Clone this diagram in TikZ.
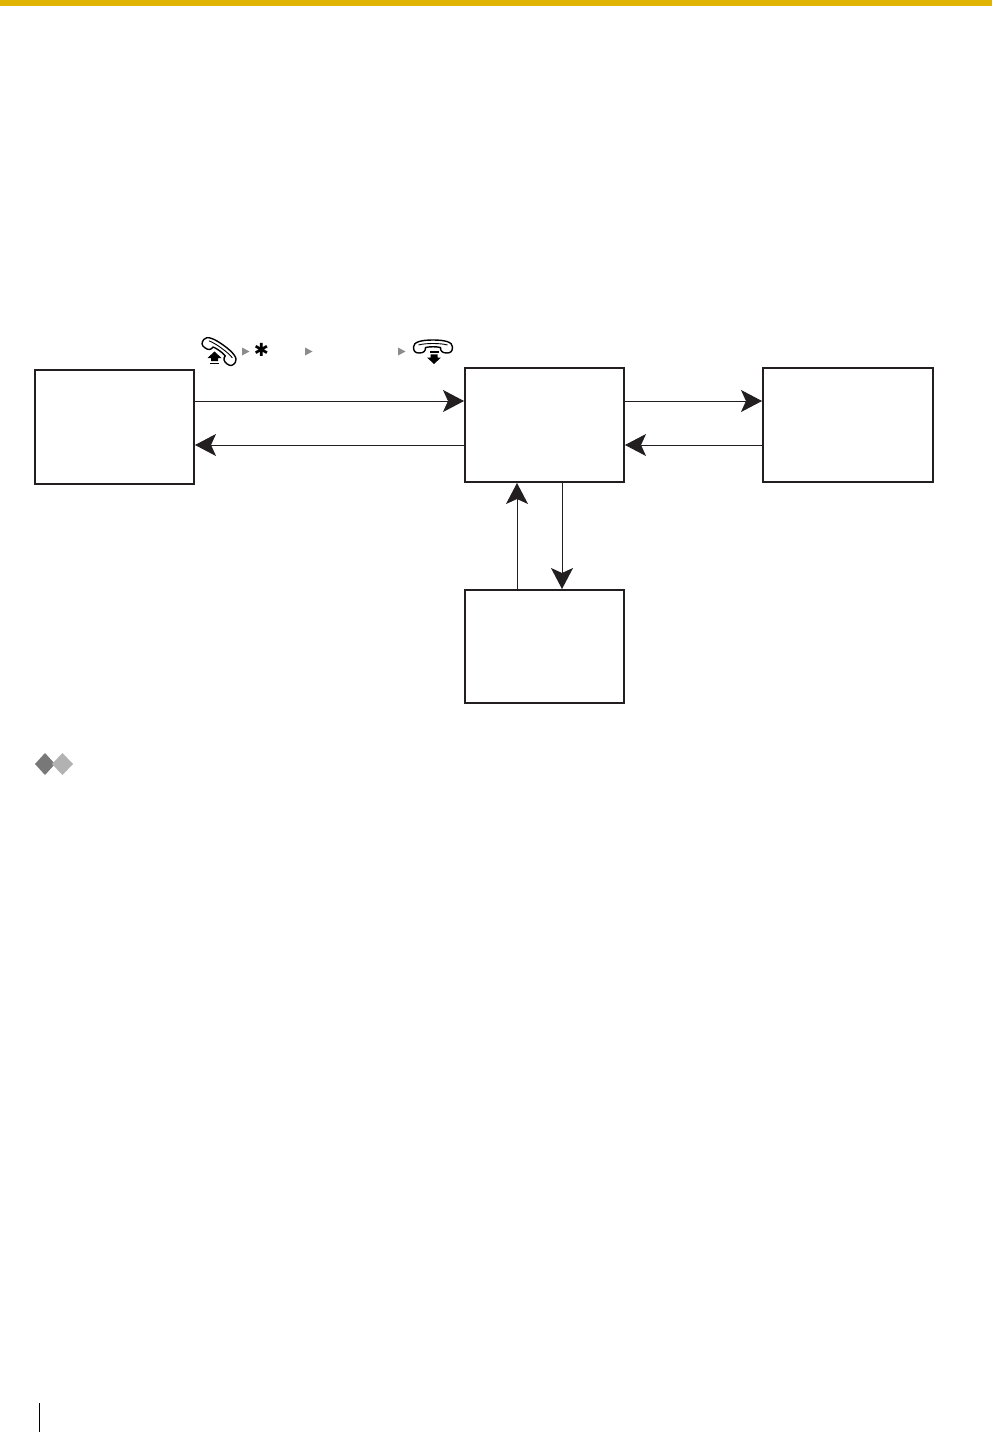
\documentclass[tikz,border=0pt]{standalone}
\usepackage{fontspec}
\newfontfamily\symfont{DejaVu Sans}
\usetikzlibrary{arrows.meta}
\definecolor{ink}{HTML}{231F20}
\definecolor{gold}{HTML}{E0B400}
\definecolor{stepgray}{HTML}{8C8C8C}
\tikzset{
  x=1pt,y=-1pt,
  block/.style={draw=ink,line width=2pt,fill=white,inner sep=0pt,outer sep=0pt},
  flow/.style={draw=ink,line width=0.9pt,-{Stealth[length=21pt,width=22pt,inset=5pt,fill=ink]},shorten >=1pt},
  steptri/.style={fill=stepgray,draw=none},
  phoneline/.style={draw=black,line width=1.4pt,fill=white,line join=round},
  pics/handset/.style={code={
    \path[phoneline] (-19.5,0) .. controls (-19.5,-5) and (-12,-7) .. (0,-7)
      .. controls (12,-7) and (19.5,-5) .. (19.5,0)
      .. controls (19.5,4) and (18,6) .. (14,6)
      .. controls (9,6) and (7.5,4) .. (7.5,0.5)
      .. controls (3,-0.5) and (-3,-0.5) .. (-7.5,0.5)
      .. controls (-7.5,4) and (-9,6) .. (-14,6)
      .. controls (-18,6) and (-19.5,4) .. (-19.5,0) -- cycle;
    \path[draw=black,line width=.9pt] (-14.5,-2) .. controls (-8,-4) and (8,-4) .. (14.5,-2);
  }},
  pics/uparrow/.style={code={
    \fill[black] (0,-6.5) -- (7,0) -- (3.5,0) -- (3.5,3.2) -- (-3.5,3.2) -- (-3.5,0) -- (-7,0) -- cycle;
    \fill[black] (-4.5,5) rectangle (4.5,6.4);
  }},
  pics/downarrow/.style={code={
    \fill[black] (0,6.5) -- (7,0) -- (3.5,0) -- (3.5,-3.2) -- (-3.5,-3.2) -- (-3.5,0) -- (-7,0) -- cycle;
    \fill[black] (-4.5,-5) rectangle (4.5,-6.4);
  }}
}
\begin{document}
\begin{tikzpicture}
\useasboundingbox (0,0) rectangle (992,1432);
\fill[white] (0,0) rectangle (992,1432);
\fill[gold] (0,0) rectangle (992,6);

% boxes
\node[block,minimum width=159pt,minimum height=114pt] (boxA) at (114.5,427) {};
\node[block,minimum width=159pt,minimum height=114pt] (boxB) at (544.5,425) {};
\node[block,minimum width=170pt,minimum height=114pt] (boxC) at (848,425) {};
\node[block,minimum width=159pt,minimum height=113pt] (boxD) at (544.5,646.5) {};

% connector levels
\coordinate (topLevel) at (0,401);
\coordinate (lowLevel) at (0,445);
\coordinate (upCol) at (517,0);
\coordinate (downCol) at (562,0);

\draw[flow] (boxA.east |- topLevel) -- (boxB.west |- topLevel);
\draw[flow] (boxB.west |- lowLevel) -- (boxA.east |- lowLevel);
\draw[flow] (boxB.east |- topLevel) -- (boxC.west |- topLevel);
\draw[flow] (boxC.west |- lowLevel) -- (boxB.east |- lowLevel);
\draw[flow] (upCol |- boxD.north) -- (upCol |- boxB.south);
\draw[flow] (downCol |- boxB.south) -- (downCol |- boxD.north);

% dial sequence
\pic[rotate=-36] at (219.5,351) {handset};
\pic at (214.5,358) {uparrow};
\fill[steptri] (242,347.5) -- (249.5,351.5) -- (242,355.5) -- cycle;
\node[inner sep=0pt,font=\symfont\fontsize{18}{18}\selectfont] (star) at (261.5,350) {✱};
\fill[steptri] (305,347.5) -- (312.5,351.5) -- (305,355.5) -- cycle;
\fill[steptri] (398,347.5) -- (405.5,351.5) -- (398,355.5) -- cycle;
\pic at (433,347) {handset};
\pic at (434,357.5) {downarrow};

% diamonds
\fill[black!53] (45,753) -- (55,764) -- (45,775) -- (35,764) -- cycle;
\fill[black!30] (62.5,753) -- (73,764) -- (62.5,775) -- (52,764) -- cycle;

% footer rule
\draw[black,line width=1.2pt] (39.5,1403) -- (39.5,1432);
\end{tikzpicture}
\end{document}
